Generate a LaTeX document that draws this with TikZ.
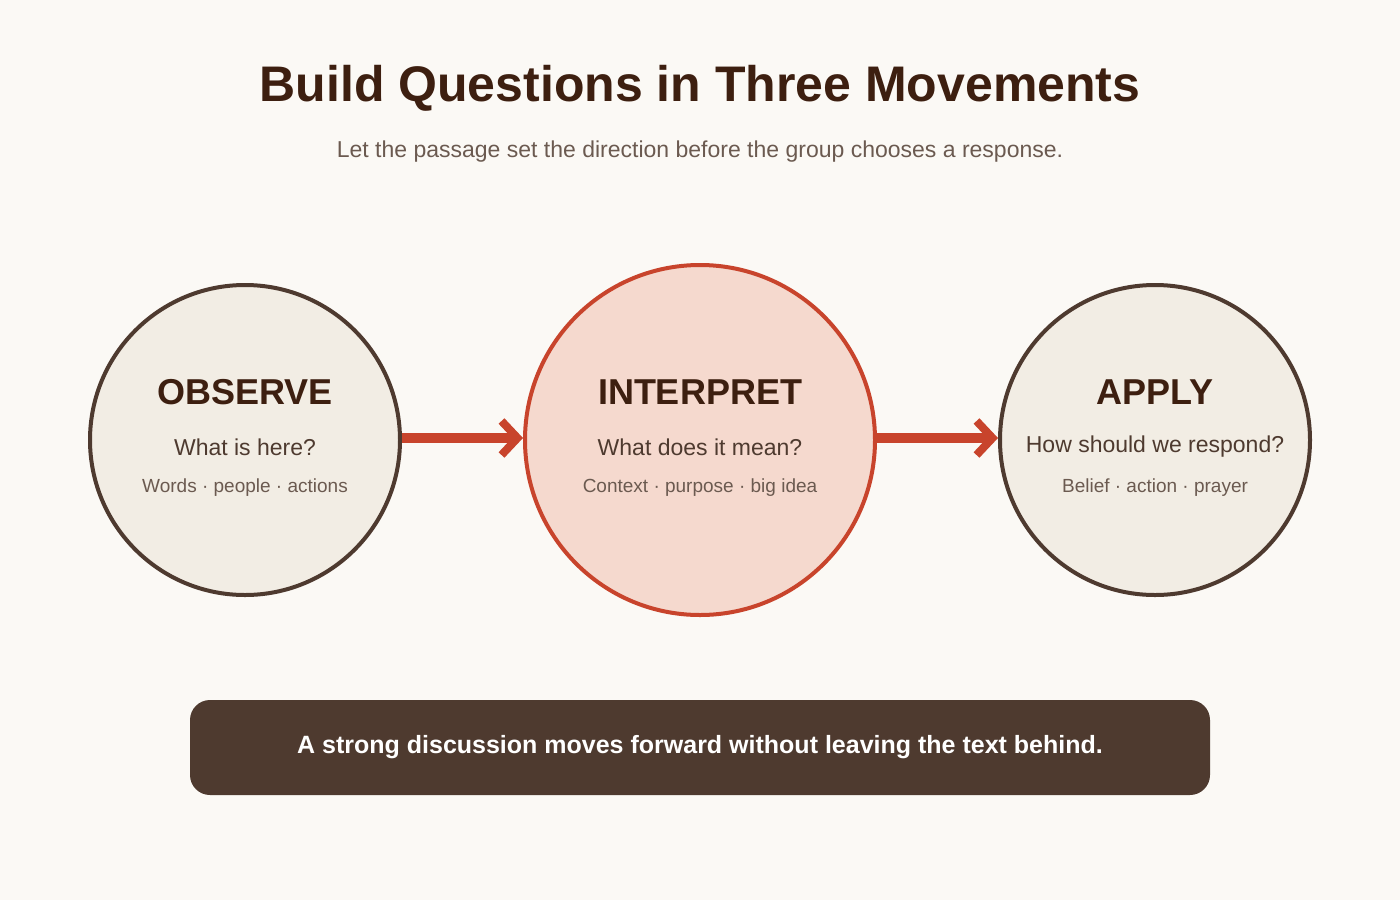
\documentclass[tikz,border=0pt]{standalone}
\usepackage{fontspec}
\setmainfont{Liberation Sans}
\usetikzlibrary{arrows.meta}
\definecolor{bg}{HTML}{FBF9F5}
\definecolor{dark}{HTML}{3D1F10}
\definecolor{brown}{HTML}{4E3A2F}
\definecolor{sub}{HTML}{6B5A50}
\definecolor{red}{HTML}{C8442C}
\definecolor{side}{HTML}{F2EDE4}
\definecolor{mid}{HTML}{F5D9CE}
\begin{document}
\begin{tikzpicture}[x=1pt,y=-1pt,
  circ/.style={circle,line width=4pt,inner sep=0pt},
  ttl/.style={font=\fontsize{36}{40}\selectfont\bfseries,text=dark},
  q/.style={font=\fontsize{23}{26}\selectfont,text=brown},
  sm/.style={font=\fontsize{19}{22}\selectfont,text=sub},
  arr/.style={red,line width=10pt,-{Straight Barb[length=16pt,width=34pt,line width=8pt]}}]
\fill[bg] (0,0) rectangle (1400,900);
\node[font=\fontsize{50}{56}\selectfont\bfseries,text=dark] (title) at (700,88) {Build Questions in Three Movements};
\node[font=\fontsize{23}{26}\selectfont,text=sub] (subt) at (700,152) {Let the passage set the direction before the group chooses a response.};
\node[circ,draw=brown,fill=side,minimum size=310pt] (c1) at (245,440) {};
\node[circ,draw=red,fill=mid,minimum size=350pt] (c2) at (700,440) {};
\node[circ,draw=brown,fill=side,minimum size=310pt] (c3) at (1155,440) {};
\node[ttl] (t1) at (245,392) {OBSERVE};
\node[q] (q1) at (245,447) {What is here?};
\node[sm] (s1) at (245,488) {Words · people · actions};
\node[ttl] (t2) at (700,392) {INTERPRET};
\node[q] (q2) at (700,447) {What does it mean?};
\node[sm] (s2) at (700,488) {Context · purpose · big idea};
\node[ttl] (t3) at (1155,392) {APPLY};
\node[q] (q3) at (1155,447) {How should we respond?};
\node[sm] (s3) at (1155,488) {Belief · action · prayer};
\draw[arr] (c1.east |- 0,438) -- (c2.west |- 0,438);
\draw[arr] (c2.east |- 0,438) -- (c3.west |- 0,438);
\node[fill=brown,rounded corners=20pt,minimum width=1020pt,minimum height=95pt,text=white,font=\fontsize{25}{28}\selectfont\bfseries] (box) at (700,747.5) {A strong discussion moves forward without leaving the text behind.};
\end{tikzpicture}
\end{document}
